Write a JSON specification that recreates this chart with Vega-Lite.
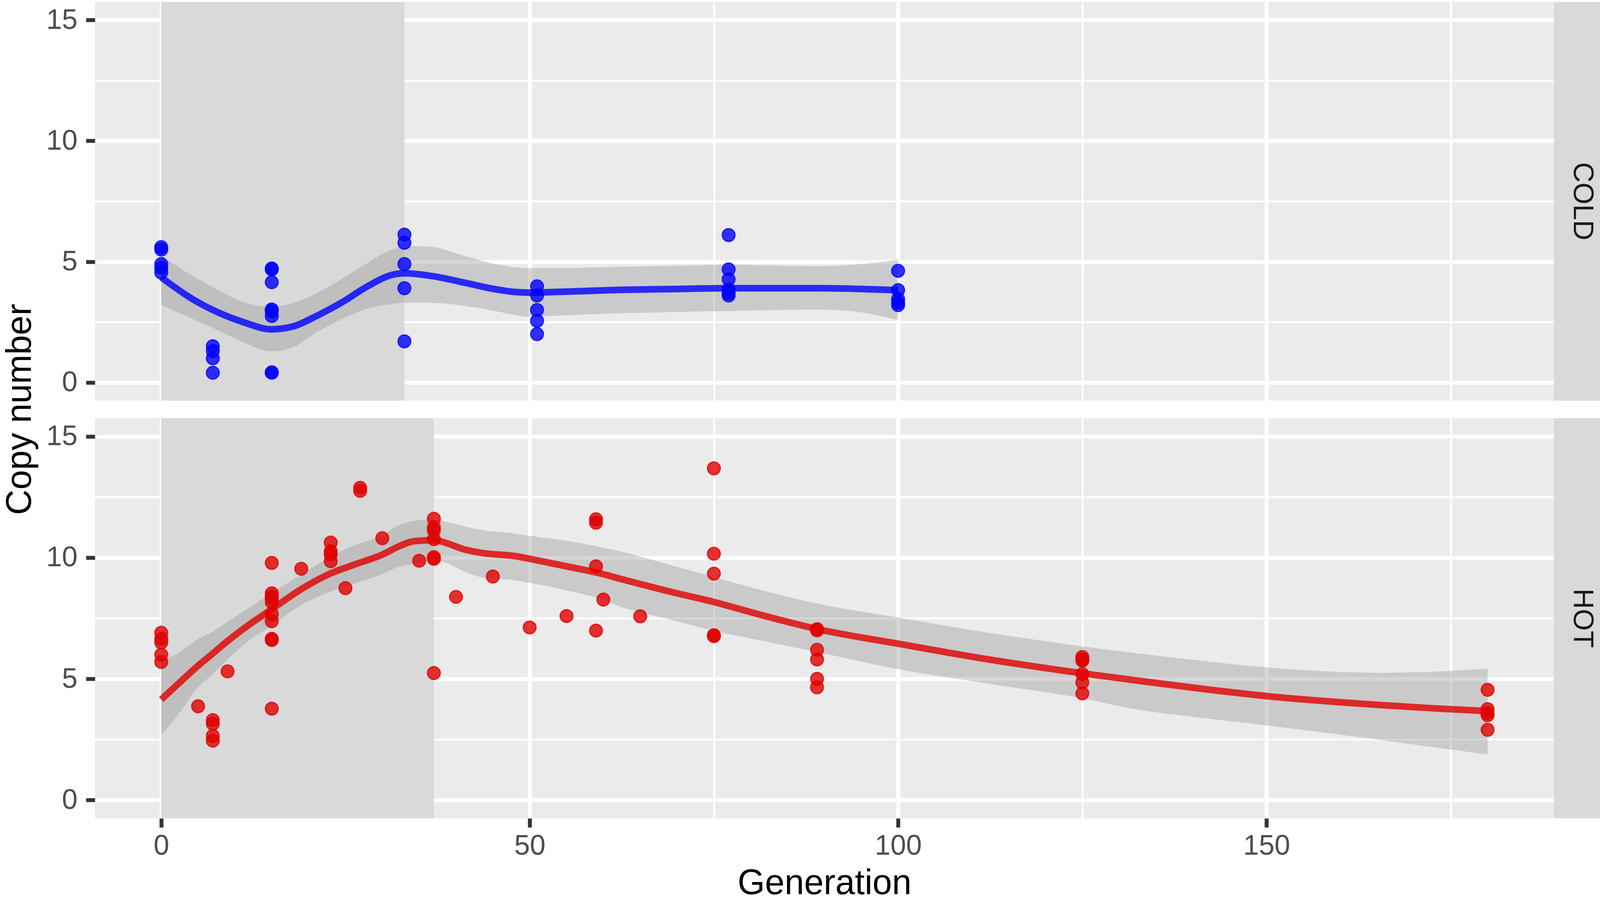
{
  "$schema": "https://vega.github.io/schema/vega-lite/v6.json",
  "background": "white",
  "padding": {"left": 6, "top": 5, "right": 0, "bottom": 0},
  "config": {
    "font": "Liberation Sans",
    "view": {"fill": "#ebebeb", "stroke": null}
  },
  "datasets": {
    "points": [
      {"panel": "COLD", "generation": 0, "copy": 5.6},
      {"panel": "COLD", "generation": 0, "copy": 5.5},
      {"panel": "COLD", "generation": 0, "copy": 4.9},
      {"panel": "COLD", "generation": 0, "copy": 4.75},
      {"panel": "COLD", "generation": 0, "copy": 4.55},
      {"panel": "COLD", "generation": 7, "copy": 1.5},
      {"panel": "COLD", "generation": 7, "copy": 1.3},
      {"panel": "COLD", "generation": 7, "copy": 1.0},
      {"panel": "COLD", "generation": 7, "copy": 0.4},
      {"panel": "COLD", "generation": 15, "copy": 4.72},
      {"panel": "COLD", "generation": 15, "copy": 4.68},
      {"panel": "COLD", "generation": 15, "copy": 4.15},
      {"panel": "COLD", "generation": 15, "copy": 3.02},
      {"panel": "COLD", "generation": 15, "copy": 2.95},
      {"panel": "COLD", "generation": 15, "copy": 2.75},
      {"panel": "COLD", "generation": 15, "copy": 0.42},
      {"panel": "COLD", "generation": 15, "copy": 0.4},
      {"panel": "COLD", "generation": 33, "copy": 6.12},
      {"panel": "COLD", "generation": 33, "copy": 5.78},
      {"panel": "COLD", "generation": 33, "copy": 4.9},
      {"panel": "COLD", "generation": 33, "copy": 3.9},
      {"panel": "COLD", "generation": 33, "copy": 1.7},
      {"panel": "COLD", "generation": 51, "copy": 3.98},
      {"panel": "COLD", "generation": 51, "copy": 3.6},
      {"panel": "COLD", "generation": 51, "copy": 3.0},
      {"panel": "COLD", "generation": 51, "copy": 2.55},
      {"panel": "COLD", "generation": 51, "copy": 2.0},
      {"panel": "COLD", "generation": 77, "copy": 6.1},
      {"panel": "COLD", "generation": 77, "copy": 4.68},
      {"panel": "COLD", "generation": 77, "copy": 4.27},
      {"panel": "COLD", "generation": 77, "copy": 3.85},
      {"panel": "COLD", "generation": 77, "copy": 3.7},
      {"panel": "COLD", "generation": 77, "copy": 3.6},
      {"panel": "COLD", "generation": 100, "copy": 4.62},
      {"panel": "COLD", "generation": 100, "copy": 3.82},
      {"panel": "COLD", "generation": 100, "copy": 3.45},
      {"panel": "COLD", "generation": 100, "copy": 3.3},
      {"panel": "COLD", "generation": 100, "copy": 3.2},
      {"panel": "HOT", "generation": 0, "copy": 6.9},
      {"panel": "HOT", "generation": 0, "copy": 6.65},
      {"panel": "HOT", "generation": 0, "copy": 6.5},
      {"panel": "HOT", "generation": 0, "copy": 6.0},
      {"panel": "HOT", "generation": 0, "copy": 5.7},
      {"panel": "HOT", "generation": 5, "copy": 3.87},
      {"panel": "HOT", "generation": 7, "copy": 3.3},
      {"panel": "HOT", "generation": 7, "copy": 3.15},
      {"panel": "HOT", "generation": 7, "copy": 2.65},
      {"panel": "HOT", "generation": 7, "copy": 2.45},
      {"panel": "HOT", "generation": 9, "copy": 5.31},
      {"panel": "HOT", "generation": 15, "copy": 9.78},
      {"panel": "HOT", "generation": 15, "copy": 8.53},
      {"panel": "HOT", "generation": 15, "copy": 8.4},
      {"panel": "HOT", "generation": 15, "copy": 8.33},
      {"panel": "HOT", "generation": 15, "copy": 8.16},
      {"panel": "HOT", "generation": 15, "copy": 7.67},
      {"panel": "HOT", "generation": 15, "copy": 7.38},
      {"panel": "HOT", "generation": 15, "copy": 6.65},
      {"panel": "HOT", "generation": 15, "copy": 6.6},
      {"panel": "HOT", "generation": 15, "copy": 3.77},
      {"panel": "HOT", "generation": 19, "copy": 9.54},
      {"panel": "HOT", "generation": 23, "copy": 10.62},
      {"panel": "HOT", "generation": 23, "copy": 10.26},
      {"panel": "HOT", "generation": 23, "copy": 10.13},
      {"panel": "HOT", "generation": 23, "copy": 9.85},
      {"panel": "HOT", "generation": 25, "copy": 8.74},
      {"panel": "HOT", "generation": 27, "copy": 12.88},
      {"panel": "HOT", "generation": 27, "copy": 12.75},
      {"panel": "HOT", "generation": 30, "copy": 10.8},
      {"panel": "HOT", "generation": 35, "copy": 9.87},
      {"panel": "HOT", "generation": 37, "copy": 11.6},
      {"panel": "HOT", "generation": 37, "copy": 11.25},
      {"panel": "HOT", "generation": 37, "copy": 11.12},
      {"panel": "HOT", "generation": 37, "copy": 10.76},
      {"panel": "HOT", "generation": 37, "copy": 10.02},
      {"panel": "HOT", "generation": 37, "copy": 9.95},
      {"panel": "HOT", "generation": 37, "copy": 5.24},
      {"panel": "HOT", "generation": 40, "copy": 8.38},
      {"panel": "HOT", "generation": 45, "copy": 9.22},
      {"panel": "HOT", "generation": 50, "copy": 7.12},
      {"panel": "HOT", "generation": 55, "copy": 7.59},
      {"panel": "HOT", "generation": 59, "copy": 11.58},
      {"panel": "HOT", "generation": 59, "copy": 11.44},
      {"panel": "HOT", "generation": 59, "copy": 9.64},
      {"panel": "HOT", "generation": 59, "copy": 6.99},
      {"panel": "HOT", "generation": 60, "copy": 8.27},
      {"panel": "HOT", "generation": 65, "copy": 7.58},
      {"panel": "HOT", "generation": 75, "copy": 13.68},
      {"panel": "HOT", "generation": 75, "copy": 10.16},
      {"panel": "HOT", "generation": 75, "copy": 9.34},
      {"panel": "HOT", "generation": 75, "copy": 6.8},
      {"panel": "HOT", "generation": 75, "copy": 6.76},
      {"panel": "HOT", "generation": 89, "copy": 7.05},
      {"panel": "HOT", "generation": 89, "copy": 7.0},
      {"panel": "HOT", "generation": 89, "copy": 6.2},
      {"panel": "HOT", "generation": 89, "copy": 5.8},
      {"panel": "HOT", "generation": 89, "copy": 5.0},
      {"panel": "HOT", "generation": 89, "copy": 4.65},
      {"panel": "HOT", "generation": 125, "copy": 5.9},
      {"panel": "HOT", "generation": 125, "copy": 5.8},
      {"panel": "HOT", "generation": 125, "copy": 5.75},
      {"panel": "HOT", "generation": 125, "copy": 5.2},
      {"panel": "HOT", "generation": 125, "copy": 4.85},
      {"panel": "HOT", "generation": 125, "copy": 4.4},
      {"panel": "HOT", "generation": 180, "copy": 4.55},
      {"panel": "HOT", "generation": 180, "copy": 3.75},
      {"panel": "HOT", "generation": 180, "copy": 3.6},
      {"panel": "HOT", "generation": 180, "copy": 3.5},
      {"panel": "HOT", "generation": 180, "copy": 2.9}
    ],
    "smooth": [
      {"panel": "COLD", "generation": 0, "fit": 4.35, "lower": 3.2, "upper": 5.22},
      {"panel": "COLD", "generation": 4.3, "fit": 3.44, "lower": 2.63, "upper": 4.41},
      {"panel": "COLD", "generation": 7.7, "fit": 2.9, "lower": 2.15, "upper": 3.82},
      {"panel": "COLD", "generation": 11.1, "fit": 2.5, "lower": 1.67, "upper": 3.33},
      {"panel": "COLD", "generation": 15, "fit": 2.2, "lower": 1.29, "upper": 3.12},
      {"panel": "COLD", "generation": 17.8, "fit": 2.31, "lower": 1.45, "upper": 3.28},
      {"panel": "COLD", "generation": 21.2, "fit": 2.77, "lower": 2.1, "upper": 3.71},
      {"panel": "COLD", "generation": 24.6, "fit": 3.33, "lower": 2.63, "upper": 4.3},
      {"panel": "COLD", "generation": 28, "fit": 3.98, "lower": 3.06, "upper": 4.95},
      {"panel": "COLD", "generation": 31.4, "fit": 4.46, "lower": 3.25, "upper": 5.51},
      {"panel": "COLD", "generation": 33, "fit": 4.52, "lower": 3.3, "upper": 5.65},
      {"panel": "COLD", "generation": 36.4, "fit": 4.42, "lower": 3.3, "upper": 5.62},
      {"panel": "COLD", "generation": 41.6, "fit": 4.1, "lower": 3.15, "upper": 5.2},
      {"panel": "COLD", "generation": 44.6, "fit": 3.9, "lower": 3.0, "upper": 4.95},
      {"panel": "COLD", "generation": 47.2, "fit": 3.77, "lower": 2.84, "upper": 4.8},
      {"panel": "COLD", "generation": 49.85, "fit": 3.72, "lower": 2.72, "upper": 4.73},
      {"panel": "COLD", "generation": 55, "fit": 3.76, "lower": 2.78, "upper": 4.74},
      {"panel": "COLD", "generation": 60.8, "fit": 3.82, "lower": 2.85, "upper": 4.78},
      {"panel": "COLD", "generation": 70, "fit": 3.87, "lower": 2.92, "upper": 4.83},
      {"panel": "COLD", "generation": 77, "fit": 3.9, "lower": 2.96, "upper": 4.87},
      {"panel": "COLD", "generation": 89.2, "fit": 3.9, "lower": 3.02, "upper": 4.81},
      {"panel": "COLD", "generation": 95, "fit": 3.87, "lower": 2.9, "upper": 4.9},
      {"panel": "COLD", "generation": 100, "fit": 3.82, "lower": 2.58, "upper": 5.08},
      {"panel": "HOT", "generation": 0, "fit": 4.15, "lower": 2.7, "upper": 5.74},
      {"panel": "HOT", "generation": 2.5, "fit": 4.85, "lower": 3.6, "upper": 6.1},
      {"panel": "HOT", "generation": 4.8, "fit": 5.49, "lower": 4.59, "upper": 6.6},
      {"panel": "HOT", "generation": 7, "fit": 6.05, "lower": 5.2, "upper": 6.95},
      {"panel": "HOT", "generation": 9, "fit": 6.56, "lower": 5.8, "upper": 7.35},
      {"panel": "HOT", "generation": 12, "fit": 7.25, "lower": 6.6, "upper": 7.95},
      {"panel": "HOT", "generation": 15, "fit": 7.87, "lower": 7.2, "upper": 8.55},
      {"panel": "HOT", "generation": 19, "fit": 8.7, "lower": 8.05, "upper": 9.3},
      {"panel": "HOT", "generation": 23, "fit": 9.35, "lower": 8.6, "upper": 10.05},
      {"panel": "HOT", "generation": 26.1, "fit": 9.7, "lower": 8.92, "upper": 10.5},
      {"panel": "HOT", "generation": 30.2, "fit": 10.15, "lower": 9.35, "upper": 10.95},
      {"panel": "HOT", "generation": 32, "fit": 10.43, "lower": 9.6, "upper": 11.3},
      {"panel": "HOT", "generation": 34.4, "fit": 10.68, "lower": 9.75, "upper": 11.52},
      {"panel": "HOT", "generation": 37.1, "fit": 10.72, "lower": 9.86, "upper": 11.57},
      {"panel": "HOT", "generation": 38.7, "fit": 10.6, "lower": 9.78, "upper": 11.47},
      {"panel": "HOT", "generation": 41, "fit": 10.35, "lower": 9.45, "upper": 11.3},
      {"panel": "HOT", "generation": 43.3, "fit": 10.2, "lower": 9.2, "upper": 11.15},
      {"panel": "HOT", "generation": 48.3, "fit": 10.05, "lower": 9.05, "upper": 10.98},
      {"panel": "HOT", "generation": 50, "fit": 9.95, "lower": 8.96, "upper": 10.9},
      {"panel": "HOT", "generation": 55, "fit": 9.64, "lower": 8.65, "upper": 10.7},
      {"panel": "HOT", "generation": 59, "fit": 9.39, "lower": 8.35, "upper": 10.47},
      {"panel": "HOT", "generation": 63.1, "fit": 9.06, "lower": 7.9, "upper": 10.2},
      {"panel": "HOT", "generation": 69, "fit": 8.6, "lower": 7.45, "upper": 9.7},
      {"panel": "HOT", "generation": 75, "fit": 8.17, "lower": 6.98, "upper": 9.2},
      {"panel": "HOT", "generation": 81.7, "fit": 7.61, "lower": 6.56, "upper": 8.64},
      {"panel": "HOT", "generation": 89.1, "fit": 7.05, "lower": 6.1, "upper": 8.1},
      {"panel": "HOT", "generation": 100, "fit": 6.45, "lower": 5.4, "upper": 7.53},
      {"panel": "HOT", "generation": 112.3, "fit": 5.8, "lower": 4.8, "upper": 6.9},
      {"panel": "HOT", "generation": 125, "fit": 5.23, "lower": 4.2, "upper": 6.34},
      {"panel": "HOT", "generation": 132.2, "fit": 4.94, "lower": 3.75, "upper": 6.06},
      {"panel": "HOT", "generation": 141, "fit": 4.6, "lower": 3.4, "upper": 5.75},
      {"panel": "HOT", "generation": 150, "fit": 4.29, "lower": 3.08, "upper": 5.47},
      {"panel": "HOT", "generation": 166, "fit": 3.91, "lower": 2.46, "upper": 5.25},
      {"panel": "HOT", "generation": 173, "fit": 3.78, "lower": 2.17, "upper": 5.3},
      {"panel": "HOT", "generation": 180, "fit": 3.67, "lower": 1.88, "upper": 5.42}
    ],
    "shade": [
      {"panel": "COLD", "start": 0, "end": 33},
      {"panel": "HOT", "start": 0, "end": 37}
    ]
  },
  "columns": 2,
  "bounds": "flush",
  "spacing": {"row": 45, "column": 0},
  "concat": [
    {
      "width": 3735,
      "height": 1020,
      "layer": [
        {
          "data": {"name": "shade"},
          "transform": [{"filter": "datum.panel === 'COLD'"}],
          "mark": {"type": "rect", "color": "#d9d9d9"},
          "encoding": {
            "x": {"field": "start", "type": "quantitative", "title": null, "scale": {"domain": [-9, 189], "nice": false, "zero": false}},
            "x2": {"field": "end"}
          }
        },
        {
          "data": {"name": "smooth"},
          "transform": [{"filter": "datum.panel === 'COLD'"}],
          "mark": {"type": "area", "color": "#999999", "opacity": 0.4, "interpolate": "monotone"},
          "encoding": {
            "x": {
              "field": "generation", "type": "quantitative", "title": null,
              "scale": {"domain": [-9, 189], "nice": false, "zero": false},
              "axis": {
                "title": null,
                "values": [0, 25, 50, 75, 100, 125, 150, 175],
                "labels": false, "ticks": false, "domain": false,
                "grid": true, "gridColor": "#ffffff",
                "gridWidth": {"condition": {"test": "datum.value % 50 === 0", "value": 10}, "value": 5}
              }
            },
            "y": {
              "field": "lower", "type": "quantitative", "title": "Copy number",
              "scale": {"domain": [-0.75, 15.75], "nice": false, "zero": false},
              "axis": {
                "title": "Copy number",
                "values": [0, 2.5, 5, 7.5, 10, 12.5, 15],
                "format": "d",
                "labelExpr": "datum.value % 5 === 0 ? datum.label : ''",
                "labelOverlap": false,
                "domain": false,
                "grid": true, "gridColor": "#ffffff",
                "gridWidth": {"condition": {"test": "datum.value % 5 === 0", "value": 10}, "value": 5},
                "tickSize": 23, "tickWidth": 10, "tickColor": "#333333",
                "tickOpacity": {"condition": {"test": "datum.value % 5 === 0", "value": 1}, "value": 0},
                "labelFontSize": 72, "labelColor": "#4d4d4d", "labelPadding": 22,
                "titleFontSize": 90, "titleColor": "#000000", "titleFontWeight": "normal",
                "titlePadding": 20, "titleY": 1042
              }
            },
            "y2": {"field": "upper"}
          }
        },
        {
          "data": {"name": "smooth"},
          "transform": [{"filter": "datum.panel === 'COLD'"}],
          "mark": {"type": "line", "color": "#0000ff", "opacity": 0.8, "strokeWidth": 17, "interpolate": "monotone"},
          "encoding": {
            "x": {"field": "generation", "type": "quantitative", "title": null, "scale": {"domain": [-9, 189], "nice": false, "zero": false}},
            "y": {"field": "fit", "type": "quantitative", "title": "Copy number", "scale": {"domain": [-0.75, 15.75], "nice": false, "zero": false}}
          }
        },
        {
          "data": {"name": "points"},
          "transform": [{"filter": "datum.panel === 'COLD'"}],
          "mark": {"type": "circle", "size": 1080, "fill": "#0000ff", "stroke": "#0000ff", "strokeWidth": 3, "fillOpacity": 0.8, "strokeOpacity": 0.8},
          "encoding": {
            "x": {"field": "generation", "type": "quantitative", "title": null, "scale": {"domain": [-9, 189], "nice": false, "zero": false}},
            "y": {"field": "copy", "type": "quantitative", "title": "Copy number", "scale": {"domain": [-0.75, 15.75], "nice": false, "zero": false}}
          }
        }
      ]
    },
    {
      "width": 145,
      "height": 1020,
      "view": {"fill": "#d9d9d9", "stroke": null},
      "data": {"values": [{"panel": "COLD"}]},
      "mark": {"type": "text", "angle": 90, "fontSize": 72, "color": "#1a1a1a", "align": "center", "baseline": "middle"},
      "encoding": {"text": {"field": "panel"}}
    },
    {
      "width": 3735,
      "height": 1024,
      "layer": [
        {
          "data": {"name": "shade"},
          "transform": [{"filter": "datum.panel === 'HOT'"}],
          "mark": {"type": "rect", "color": "#d9d9d9"},
          "encoding": {
            "x": {"field": "start", "type": "quantitative", "title": "Generation", "scale": {"domain": [-9, 189], "nice": false, "zero": false}},
            "x2": {"field": "end"}
          }
        },
        {
          "data": {"name": "smooth"},
          "transform": [{"filter": "datum.panel === 'HOT'"}],
          "mark": {"type": "area", "color": "#999999", "opacity": 0.4, "interpolate": "monotone"},
          "encoding": {
            "x": {
              "field": "generation", "type": "quantitative", "title": "Generation",
              "scale": {"domain": [-9, 189], "nice": false, "zero": false},
              "axis": {
                "title": "Generation",
                "values": [0, 25, 50, 75, 100, 125, 150, 175],
                "format": "d",
                "labelExpr": "datum.value % 50 === 0 ? datum.label : ''",
                "labelOverlap": false, "labelFlush": false,
                "domain": false,
                "grid": true, "gridColor": "#ffffff",
                "gridWidth": {"condition": {"test": "datum.value % 50 === 0", "value": 10}, "value": 5},
                "tickSize": 23, "tickWidth": 10, "tickColor": "#333333",
                "tickOpacity": {"condition": {"test": "datum.value % 50 === 0", "value": 1}, "value": 0},
                "labelFontSize": 72, "labelColor": "#4d4d4d", "labelPadding": 12,
                "titleFontSize": 90, "titleColor": "#000000", "titleFontWeight": "normal",
                "titlePadding": 16
              }
            },
            "y": {
              "field": "lower", "type": "quantitative", "title": null,
              "scale": {"domain": [-0.75, 15.75], "nice": false, "zero": false},
              "axis": {
                "title": null,
                "values": [0, 2.5, 5, 7.5, 10, 12.5, 15],
                "format": "d",
                "labelExpr": "datum.value % 5 === 0 ? datum.label : ''",
                "labelOverlap": false,
                "domain": false,
                "grid": true, "gridColor": "#ffffff",
                "gridWidth": {"condition": {"test": "datum.value % 5 === 0", "value": 10}, "value": 5},
                "tickSize": 23, "tickWidth": 10, "tickColor": "#333333",
                "tickOpacity": {"condition": {"test": "datum.value % 5 === 0", "value": 1}, "value": 0},
                "labelFontSize": 72, "labelColor": "#4d4d4d", "labelPadding": 22
              }
            },
            "y2": {"field": "upper"}
          }
        },
        {
          "data": {"name": "smooth"},
          "transform": [{"filter": "datum.panel === 'HOT'"}],
          "mark": {"type": "line", "color": "#e00000", "opacity": 0.8, "strokeWidth": 17, "interpolate": "monotone"},
          "encoding": {
            "x": {"field": "generation", "type": "quantitative", "title": "Generation", "scale": {"domain": [-9, 189], "nice": false, "zero": false}},
            "y": {"field": "fit", "type": "quantitative", "title": null, "scale": {"domain": [-0.75, 15.75], "nice": false, "zero": false}}
          }
        },
        {
          "data": {"name": "points"},
          "transform": [{"filter": "datum.panel === 'HOT'"}],
          "mark": {"type": "circle", "size": 1080, "fill": "#e00000", "stroke": "#e00000", "strokeWidth": 3, "fillOpacity": 0.8, "strokeOpacity": 0.8},
          "encoding": {
            "x": {"field": "generation", "type": "quantitative", "title": "Generation", "scale": {"domain": [-9, 189], "nice": false, "zero": false}},
            "y": {"field": "copy", "type": "quantitative", "title": null, "scale": {"domain": [-0.75, 15.75], "nice": false, "zero": false}}
          }
        }
      ]
    },
    {
      "width": 145,
      "height": 1024,
      "view": {"fill": "#d9d9d9", "stroke": null},
      "data": {"values": [{"panel": "HOT"}]},
      "mark": {"type": "text", "angle": 90, "fontSize": 72, "color": "#1a1a1a", "align": "center", "baseline": "middle"},
      "encoding": {"text": {"field": "panel"}}
    }
  ]
}
